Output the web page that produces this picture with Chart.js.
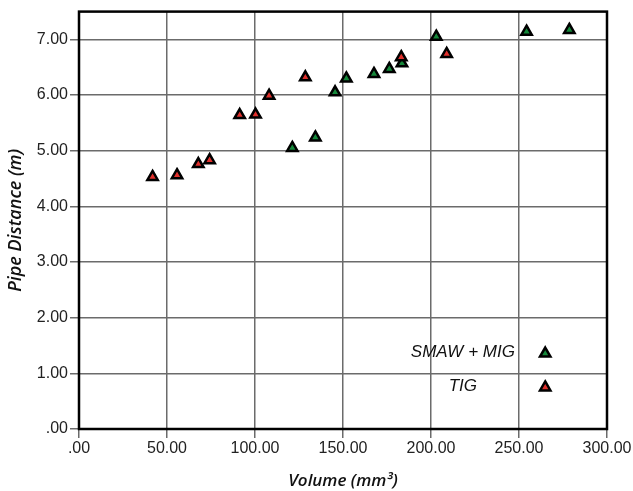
<!DOCTYPE html>
<html>
<head>
<meta charset="utf-8">
<title>Pipe Distance vs Volume</title>
<script src="https://cdn.jsdelivr.net/npm/chart.js@4.4.1/dist/chart.umd.min.js"></script>
<style>
    html, body {
        margin: 0;
        padding: 0;
        background: #ffffff;
    }
    .chart-box {
        width: 633px;
        height: 491px;
    }
</style>
</head>
<body>
<div class="chart-box">
    <canvas class="scatter"></canvas>
</div>
<script>
/*============================
  DATA
=============================*/

let smawVolume = [121.2, 134.3, 145.5, 151.9, 167.6, 176.3, 183.5, 203.0, 254.3, 278.6];
let smawDistance = [5.05, 5.24, 6.05, 6.30, 6.38, 6.47, 6.57, 7.05, 7.14, 7.17];

let tigVolume = [41.8, 55.7, 67.8, 74.2, 91.3, 100.3, 108.0, 128.6, 183.1, 208.9];
let tigDistance = [4.53, 4.56, 4.76, 4.83, 5.64, 5.65, 5.99, 6.32, 6.68, 6.74];

let xTickValues = [0, 50, 100, 150, 200, 250, 300];
let yTickValues = [0, 1, 2, 3, 4, 5, 6, 7];

let seriesNames = ['SMAW + MIG', 'TIG'];


function toPoints(xs, ys) {
    return xs.map((x, i) => ({ x: x, y: ys[i] }));
}

// 0 -> ".00", 50 -> "50.00"
function spssLabel(v) {
    return v.toFixed(2).replace(/^0\./, '.');
}


/*============================
  PLUGINS
=============================*/

// thick black frame round the plot area
let frame = {
    id: 'frame',
    afterDatasetsDraw(chart) {
        let ctx = chart.ctx, a = chart.chartArea;
        ctx.save();
        ctx.strokeStyle = '#000';
        ctx.lineWidth = 2.5;
        ctx.strokeRect(a.left, a.top, a.right - a.left, a.bottom - a.top);
        ctx.restore();
    }
};

// legend sits inside the plot, bottom right
let innerLegend = {
    id: 'innerLegend',
    afterDraw(chart) {
        let ctx = chart.ctx, a = chart.chartArea;
        let w = a.right - a.left, h = a.bottom - a.top;
        let textX = a.left + w * 0.727;
        let markX = a.left + w * 0.883;
        let rows = [a.top + h * 0.817, a.top + h * 0.898];
        ctx.save();
        ctx.font = 'italic 17px "Liberation Sans", Arial, sans-serif';
        ctx.fillStyle = '#111';
        ctx.textAlign = 'center';
        ctx.textBaseline = 'middle';
        chart.data.datasets.forEach((ds, i) => {
            ctx.fillText(ds.label, textX, rows[i]);
            ctx.fillStyle = ds.pointBackgroundColor;
            ctx.strokeStyle = ds.pointBorderColor;
            ctx.lineWidth = ds.pointBorderWidth;
            Chart.helpers.drawPoint(ctx, { pointStyle: 'triangle', radius: ds.pointRadius, rotation: 0, borderWidth: ds.pointBorderWidth }, markX, rows[i] + 1);
            ctx.fillStyle = '#111';
        });
        ctx.restore();
    }
};


/*============================
  CHART
=============================*/

Chart.defaults.font.family = '"Liberation Sans", Arial, sans-serif';
Chart.defaults.color = '#222';

function displayScatterChart() {
    let scatterChart = document.querySelector('.scatter').getContext('2d');
    let gridColor = '#6b6b6b';
    let xTitleFont = { family: '"Open Sans", sans-serif', size: 17, weight: '600', style: 'italic' };
    let yTitleFont = { family: '"Open Sans", sans-serif', size: 18, weight: '600', style: 'italic' };

    new Chart(scatterChart, {
        type: 'scatter',
        data: {
            datasets: [{
                label: seriesNames[0],
                data: toPoints(smawVolume, smawDistance),
                pointStyle: 'triangle',
                pointRadius: 6,
                pointHoverRadius: 6,
                pointBackgroundColor: '#15883a',
                pointBorderColor: '#000',
                pointBorderWidth: 2.5,
                order: 2
            }, {
                label: seriesNames[1],
                data: toPoints(tigVolume, tigDistance),
                pointStyle: 'triangle',
                pointRadius: 6,
                pointHoverRadius: 6,
                pointBackgroundColor: '#e0302c',
                pointBorderColor: '#000',
                pointBorderWidth: 2.5,
                order: 1
            }]
        },
        options: {
            responsive: true,
            maintainAspectRatio: false,
            animation: false,
            layout: {
                padding: { top: 10, right: 26, left: 0, bottom: 0 }
            },
            plugins: {
                legend: { display: false },
                tooltip: { enabled: false }
            },
            scales: {
                x: {
                    type: 'linear',
                    min: 0,
                    max: 300,
                    afterBuildTicks: (scale) => {
                        scale.ticks = xTickValues.map(v => ({ value: v }));
                    },
                    afterFit: (scale) => {
                        scale.height = 62;
                    },
                    ticks: {
                        callback: (v) => spssLabel(v),
                        font: { size: 16 },
                        color: '#222',
                        padding: 1,
                        maxRotation: 0
                    },
                    grid: {
                        color: gridColor,
                        lineWidth: 1.5,
                        tickLength: 9,
                        tickColor: gridColor
                    },
                    border: { display: false },
                    title: {
                        display: true,
                        text: 'Volume (mm³)',
                        font: xTitleFont,
                        color: '#111',
                        padding: { top: 2, bottom: 0 }
                    }
                },
                y: {
                    type: 'linear',
                    min: 0,
                    max: 7.5,
                    afterBuildTicks: (scale) => {
                        scale.ticks = yTickValues.map(v => ({ value: v }));
                    },
                    afterFit: (scale) => {
                        scale.width = 79;
                    },
                    ticks: {
                        callback: (v) => spssLabel(v),
                        font: { size: 16 },
                        color: '#222',
                        padding: 2
                    },
                    grid: {
                        color: gridColor,
                        lineWidth: 1.5,
                        tickLength: 9,
                        tickColor: gridColor
                    },
                    border: { display: false },
                    title: {
                        display: true,
                        text: 'Pipe Distance (m)',
                        font: yTitleFont,
                        color: '#111',
                        padding: { top: 5, bottom: 2 }
                    }
                }
            }
        },
        plugins: [frame, innerLegend]
    });
}
displayScatterChart();
</script>
</body>
</html>
